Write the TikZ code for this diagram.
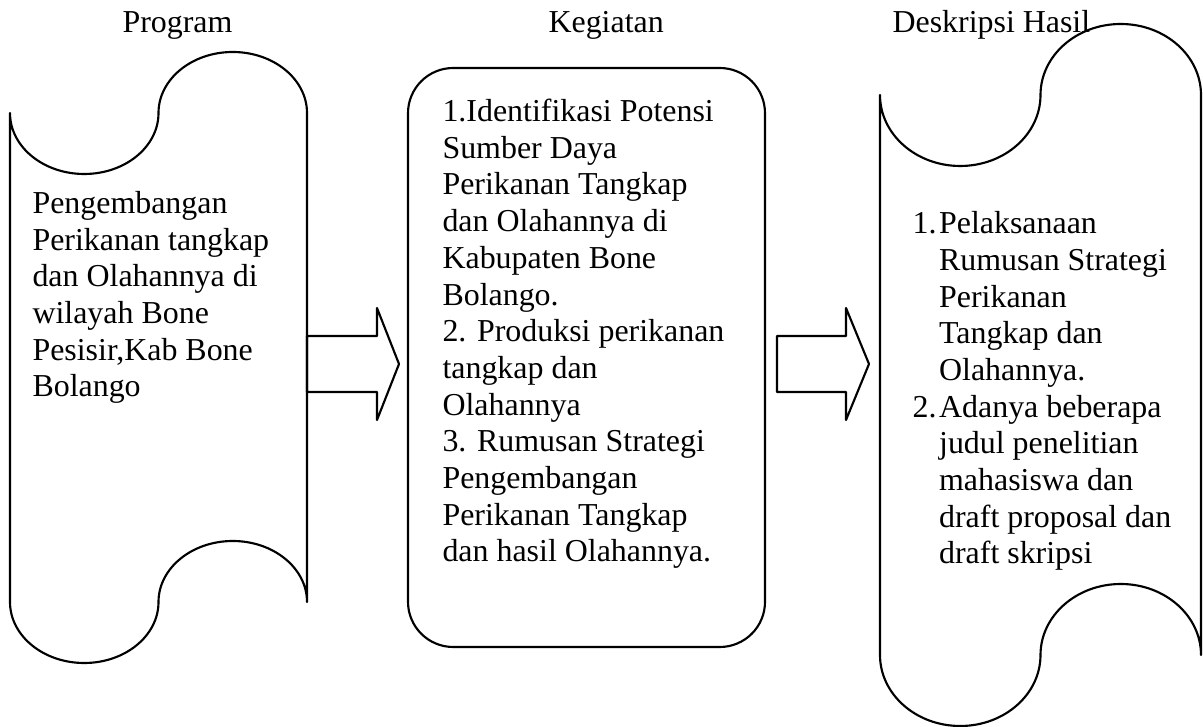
\documentclass[tikz,border=0pt]{standalone}
\usepackage{fontspec}
\setmainfont{Liberation Serif}
\usetikzlibrary{calc}

\begin{document}
\begin{tikzpicture}[line cap=round,line join=round,x=0.01322cm,y=-0.01322cm,
		garis/.style={line width=0.8pt},
		teks/.style={anchor=base west,align=left,inner sep=0pt,font=\fontsize{12}{13.8}\selectfont}]
		\useasboundingbox (0,0) rectangle (1203,727);
		% pita kiri (program)
		\draw [garis] (10,113) arc[start angle=180,end angle=0,x radius=74.25,y radius=61] arc[start angle=180,end angle=360,x radius=74.25,y radius=61] -- (307,602) arc[start angle=0,end angle=-180,x radius=74.25,y radius=61] arc[start angle=0,end angle=180,x radius=74.25,y radius=61] -- cycle;
		% kotak tengah (kegiatan)
		\draw [garis,rounded corners=17pt] (408,68) rectangle (765,647);
		% pita kanan (deskripsi hasil)
		\draw [garis] (880,95) arc[start angle=180,end angle=0,x radius=80.25,y radius=71] arc[start angle=180,end angle=360,x radius=80.25,y radius=71] -- (1201,655) arc[start angle=0,end angle=-180,x radius=80.25,y radius=71] arc[start angle=0,end angle=180,x radius=80.25,y radius=71] -- cycle;
		\coordinate (progE) at (307,364);
		\coordinate (kegW) at (408,364);
		\coordinate (kegE) at (765,364);
		\coordinate (deskW) at (880,364);
		% panah
		\draw [garis] (progE) ++(0,-28) -- ++(70,0) -- ++(0,-28) -- ($(kegW)+(-9,0)$) -- ++(-22,56) -- ++(0,-28) -- ++(-70,0) -- cycle;
		\draw [garis] (kegE) ++(12,-28) -- ++(69,0) -- ++(0,-28) -- ($(deskW)+(-11,0)$) -- ++(-23,56) -- ++(0,-28) -- ++(-69,0) -- cycle;
		% judul
		\node [teks] (judprog) at (122,33) {Program};
		\node [teks] (judkeg) at (548,33) {Kegiatan};
		\node [teks] (judhasil) at (892,33) {Deskripsi Hasil};
		% isi (titik = garis dasar baris terakhir)
		\node [teks] (isiprog) at (32,397) {Pengembangan\\Perikanan tangkap\\dan Olahannya di\\wilayah Bone\\Pesisir,Kab Bone\\Bolango};
		\node [teks] (isikeg) at (442,562) {1.Identifikasi Potensi\\Sumber Daya\\Perikanan Tangkap\\dan Olahannya di\\Kabupaten Bone\\Bolango.\\2. Produksi perikanan\\tangkap dan\\Olahannya\\3. Rumusan Strategi\\Pengembangan\\Perikanan Tangkap\\dan hasil Olahannya.};
		\node [teks] (isihasil) at (912,564) {\makebox[10pt][l]{1.}Pelaksanaan\\\hspace*{10pt}Rumusan Strategi\\\hspace*{10pt}Perikanan\\\hspace*{10pt}Tangkap dan\\\hspace*{10pt}Olahannya.\\\makebox[10pt][l]{2.}Adanya beberapa\\\hspace*{10pt}judul penelitian\\\hspace*{10pt}mahasiswa dan\\\hspace*{10pt}draft proposal dan\\\hspace*{10pt}draft skripsi};
\end{tikzpicture}
\end{document}
